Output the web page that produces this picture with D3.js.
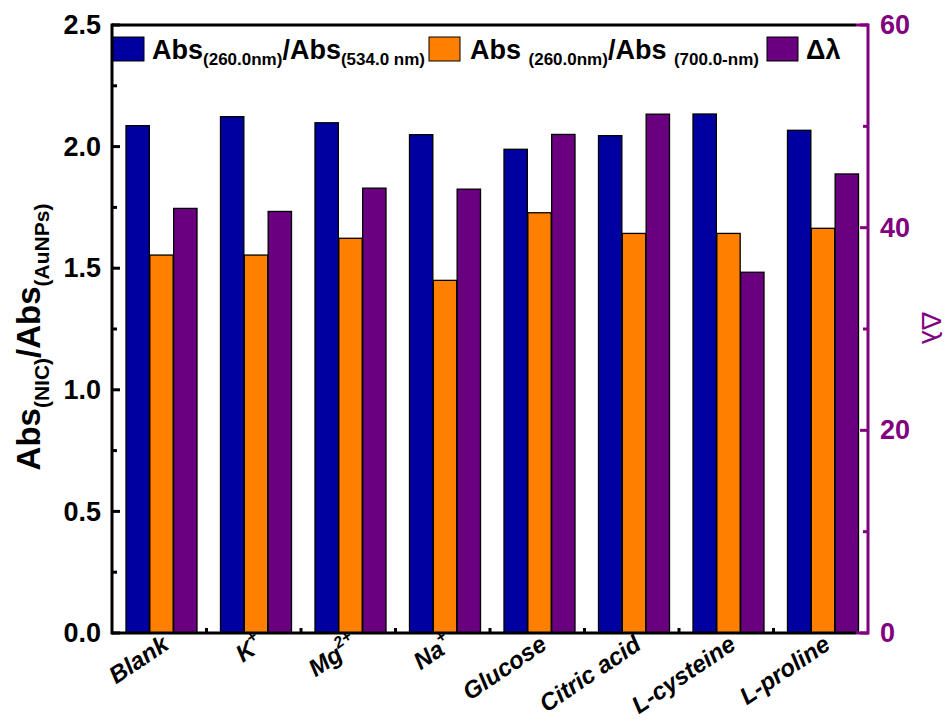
<!DOCTYPE html>
<meta charset="utf-8">
<style>
body { margin: 0; background: #fff; }
text { font-family: "Liberation Sans", Arial, sans-serif; }
.tick text { font-weight: bold; font-size: 27px; }
</style>
<svg width="947" height="722"></svg>
<script src="https://d3js.org/d3.v7.min.js"></script>
<script>

// category labels: [main, superscript]
const categories = [["Blank",""],["K","+"],["Mg","2+"],["Na","+"],["Glucose",""],["Citric acid",""],["L-cysteine",""],["L-proline",""]];
const ratio534 = [2.086, 2.123, 2.098, 2.049, 1.989, 2.045, 2.134, 2.067];
const ratio700 = [1.554, 1.554, 1.623, 1.450, 1.728, 1.643, 1.643, 1.664];
const deltaLambda = [41.9, 41.6, 43.9, 43.8, 49.2, 51.2, 35.6, 45.3];
const leftTicks = [0, 0.5, 1.0, 1.5, 2.0, 2.5];
const rightTicks = [0, 20, 40, 60];

const blue = "#0000a0", orange = "#ff8000", purple = "#6a0080", axisPurple = "#800080";

const margin = {top: 25, left: 112, right: 79, bottom: 89};
const width = 947 - margin.left - margin.right,
      height = 722 - margin.top - margin.bottom;

const svg = d3.select("svg");
const g = svg.append("g").attr("transform", "translate(" + margin.left + "," + margin.top + ")");

const x = d3.scaleBand().domain(d3.range(categories.length)).range([0, width]);
const sub = d3.scaleBand().domain([0, 1, 2]).range([14, 85]).paddingInner(0.02);
const yL = d3.scaleLinear().domain([0, 2.5]).range([height, 0]);
const yR = d3.scaleLinear().domain([0, 60]).range([height, 0]);

// bars
const series = [
  {vals: ratio534, scale: yL, color: blue},
  {vals: ratio700, scale: yL, color: orange},
  {vals: deltaLambda, scale: yR, color: purple}
];
series.forEach(function(s, si) {
  g.selectAll(".bar" + si)
    .data(s.vals)
    .enter().append("rect")
    .attr("x", function(d, i) { return x(i) + sub(si); })
    .attr("width", sub.bandwidth())
    .attr("y", function(d) { return s.scale(d); })
    .attr("height", function(d) { return height - s.scale(d); })
    .attr("fill", s.color)
    .attr("stroke", "#000")
    .attr("stroke-width", 1.3);
});

// left axis
const leftAxis = g.append("g")
  .call(d3.axisLeft(yL).tickValues(leftTicks).tickFormat(d3.format(".1f")).tickSize(0).tickPadding(11));
leftAxis.select(".domain").remove();
leftAxis.selectAll("text").attr("fill", "#000");
// inward ticks
g.selectAll(".lmaj").data(leftTicks).enter().append("line")
  .attr("x1", 0).attr("x2", 8).attr("y1", yL).attr("y2", yL)
  .attr("stroke", "#000").attr("stroke-width", 3);
g.selectAll(".lmin").data([0.25, 0.75, 1.25, 1.75, 2.25]).enter().append("line")
  .attr("x1", 0).attr("x2", 5).attr("y1", yL).attr("y2", yL)
  .attr("stroke", "#000").attr("stroke-width", 3);

// right axis
const rightAxis = g.append("g").attr("transform", "translate(" + width + ",0)")
  .call(d3.axisRight(yR).tickValues(rightTicks).tickSize(0).tickPadding(12));
rightAxis.select(".domain").remove();
rightAxis.selectAll("text").attr("fill", axisPurple);
g.selectAll(".rmaj").data(rightTicks).enter().append("line")
  .attr("x1", width).attr("x2", width - 8).attr("y1", yR).attr("y2", yR)
  .attr("stroke", axisPurple).attr("stroke-width", 3);
g.selectAll(".rmin").data([10, 30, 50]).enter().append("line")
  .attr("x1", width).attr("x2", width - 5).attr("y1", yR).attr("y2", yR)
  .attr("stroke", axisPurple).attr("stroke-width", 3);

// bottom minor ticks between groups
g.selectAll(".xmin").data(d3.range(1, categories.length)).enter().append("line")
  .attr("x1", function(d) { return x(d); }).attr("x2", function(d) { return x(d); })
  .attr("y1", height).attr("y2", height - 5)
  .attr("stroke", "#000").attr("stroke-width", 3);

// frame
g.append("line").attr("x1", 0).attr("x2", width - 12).attr("y1", 0).attr("y2", 0).attr("stroke", "#000").attr("stroke-width", 3);
g.append("line").attr("x1", width - 12).attr("x2", width).attr("y1", 0).attr("y2", 0).attr("stroke", axisPurple).attr("stroke-width", 3);
g.append("line").attr("x1", 0).attr("x2", width - 12).attr("y1", height).attr("y2", height).attr("stroke", "#000").attr("stroke-width", 3);
g.append("line").attr("x1", width - 12).attr("x2", width).attr("y1", height).attr("y2", height).attr("stroke", axisPurple).attr("stroke-width", 3);
g.append("line").attr("x1", 0).attr("x2", 0).attr("y1", -1.5).attr("y2", height + 1.5).attr("stroke", "#000").attr("stroke-width", 3);
g.append("line").attr("x1", width).attr("x2", width).attr("y1", -1.5).attr("y2", height + 1.5).attr("stroke", axisPurple).attr("stroke-width", 3);

// x labels
const xl = g.selectAll(".xlab").data(categories).enter().append("text")
  .attr("transform", function(d, i) { return "translate(" + (x(i) + x.bandwidth() / 2 + 11) + "," + (height + 15) + ") rotate(-34)"; })
  .attr("text-anchor", "end")
  .attr("font-size", 24).attr("font-weight", "bold").attr("font-style", "italic");
xl.append("tspan").text(function(d) { return d[0]; });
xl.filter(function(d) { return d[1]; }).append("tspan")
  .attr("dy", -11).attr("font-size", 16).text(function(d) { return d[1]; });

// left axis title
const yt = svg.append("text")
  .attr("transform", "translate(40," + (margin.top + height / 2 + 8) + ") rotate(-90)")
  .attr("text-anchor", "middle").attr("font-weight", "bold").attr("font-size", 33);
yt.append("tspan").text("Abs");
yt.append("tspan").attr("font-size", 21).attr("dy", 9).text("(NIC)");
yt.append("tspan").attr("dy", -9).text("/Abs");
yt.append("tspan").attr("font-size", 21).attr("dy", 9).text("(AuNPs)");

// right axis title
svg.append("text")
  .attr("transform", "translate(922,328) rotate(90)")
  .attr("text-anchor", "middle").attr("font-size", 28).attr("fill", axisPurple)
  .text("Δλ");

// legend
const legend = [
  {x: 113, color: blue, tx: 152, parts: [["Abs",0],["(260.0nm)",1],["/Abs",0],["(534.0 nm)",1]]},
  {x: 429, color: orange, tx: 470, parts: [["Abs ",0],["(260.0nm)",1],["/Abs ",0],["(700.0-nm)",1]]},
  {x: 767, color: purple, tx: 806, parts: [["Δλ",0]]}
];
legend.forEach(function(l) {
  svg.append("rect").attr("x", l.x).attr("y", 37).attr("width", 31).attr("height", 24)
    .attr("fill", l.color).attr("stroke", "#000").attr("stroke-width", 1);
  const t = svg.append("text").attr("x", l.tx).attr("y", 59).attr("font-weight", "bold").attr("font-size", 27);
  let cur = 0;
  l.parts.forEach(function(p) {
    const shift = (p[1] ? 6 : 0) - cur;
    t.append("tspan").attr("dy", shift).attr("font-size", p[1] ? 17 : 27).text(p[0]);
    cur = p[1] ? 6 : 0;
  });
});
</script>
